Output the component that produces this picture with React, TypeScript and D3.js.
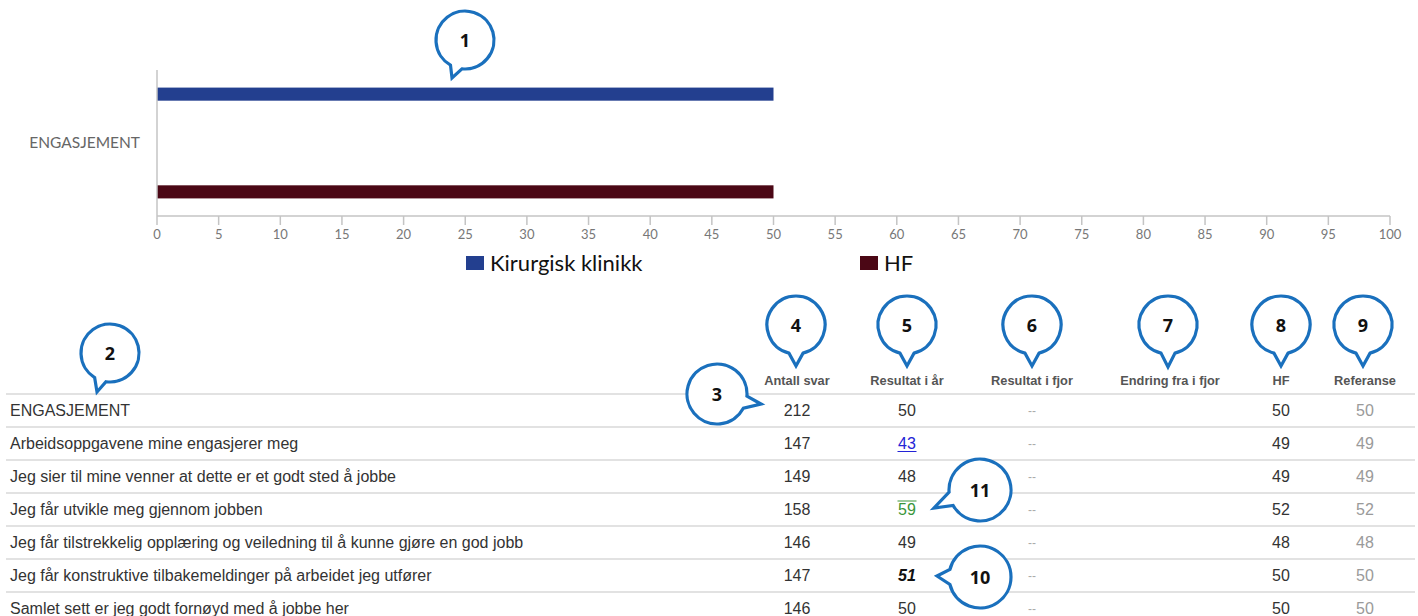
import React from "react";
import * as d3 from "d3";

// ---------- Chart data ----------
const chartCategories = ["ENGASJEMENT"];
const seriesNames = ["Kirurgisk klinikk", "HF"];
const seriesValues = [50, 50];
const seriesColors = ["#233f8f", "#4b0715"];
const xTickValues = [0, 5, 10, 15, 20, 25, 30, 35, 40, 45, 50, 55, 60, 65, 70, 75, 80, 85, 90, 95, 100];

// ---------- Table data ----------
const tableHeaders = ["Antall svar", "Resultat i år", "Resultat i fjor", "Endring fra i fjor", "HF", "Referanse"];
const rowLabels = [
  "ENGASJEMENT",
  "Arbeidsoppgavene mine engasjerer meg",
  "Jeg sier til mine venner at dette er et godt sted å jobbe",
  "Jeg får utvikle meg gjennom jobben",
  "Jeg får tilstrekkelig opplæring og veiledning til å kunne gjøre en god jobb",
  "Jeg får konstruktive tilbakemeldinger på arbeidet jeg utfører",
  "Samlet sett er jeg godt fornøyd med å jobbe her",
];
const antallSvar = [212, 147, 149, 158, 146, 147, 146];
const resultatIAar = [50, 43, 48, 59, 49, 51, 50];
const resultatIFjor = ["--", "--", "--", "--", "--", "--", "--"];
const endringFraIFjor = ["", "", "", "", "", "", ""];
const hfValues = [50, 49, 49, 52, 48, 50, 50];
const referanseValues = [50, 49, 49, 52, 48, 50, 50];
const resultatMarks = ["", "link", "", "overline", "", "bold", ""];

// ---------- Annotation callouts ----------
const callouts = [
  { n: "1", cx: 465, cy: 40, r: 29, a1: 96, a2: 120, tx: 452, ty: 78 },
  { n: "2", cx: 110, cy: 353, r: 29, a1: 98, a2: 122, tx: 97, ty: 392 },
  { n: "3", cx: 717, cy: 394, r: 30, a1: 4, a2: 28, tx: 761, ty: 404 },
  { n: "4", cx: 796, cy: 325, r: 29, a1: 76, a2: 104, tx: 796, ty: 366 },
  { n: "5", cx: 907, cy: 325, r: 29, a1: 76, a2: 104, tx: 907, ty: 366 },
  { n: "6", cx: 1032, cy: 325, r: 29, a1: 76, a2: 104, tx: 1032, ty: 366 },
  { n: "7", cx: 1168, cy: 325, r: 29, a1: 76, a2: 104, tx: 1168, ty: 367 },
  { n: "8", cx: 1281, cy: 325, r: 29, a1: 76, a2: 104, tx: 1281, ty: 366 },
  { n: "9", cx: 1363, cy: 325, r: 29, a1: 76, a2: 104, tx: 1363, ty: 366 },
  { n: "10", cx: 980, cy: 577, r: 31, a1: 166, a2: 194, tx: 937, ty: 576 },
  { n: "11", cx: 980, cy: 490, r: 31, a1: 150, a2: 176, tx: 934, ty: 508 },
];

const W = 1418;
const H = 616;

function calloutPath(c: any) {
  const rad = (d: number) => (d * Math.PI) / 180;
  const p1x = c.cx + c.r * Math.cos(rad(c.a2));
  const p1y = c.cy + c.r * Math.sin(rad(c.a2));
  const p2x = c.cx + c.r * Math.cos(rad(c.a1));
  const p2y = c.cy + c.r * Math.sin(rad(c.a1));
  return `M${p1x},${p1y} A${c.r},${c.r} 0 1 1 ${p2x},${p2y} L${c.tx},${c.ty} Z`;
}

export default function App() {
  // chart scales
  const x = d3.scaleLinear().domain([0, 100]).range([157, 1390]);
  const y = d3.scaleBand<string>().domain(chartCategories).range([70, 216]);
  const ySeries = d3
    .scaleBand<string>()
    .domain(seriesNames)
    .range([0, y.bandwidth()])
    .paddingInner(0.866)
    .paddingOuter(0.18);

  // table scales
  const rowH = 33;
  const tableTop = 394;
  const rowY = d3
    .scaleBand<string>()
    .domain(rowLabels)
    .range([tableTop, tableTop + rowH * rowLabels.length]);
  const colX = d3
    .scaleOrdinal<string, number>()
    .domain(tableHeaders)
    .range([797, 907, 1032, 1170, 1281, 1365]);

  const axisColor = "#c4c4c4";
  const chartFont = "Lato, 'Open Sans', sans-serif";
  const tableFont = "'Liberation Sans', Arial, sans-serif";
  const fs = 16;

  const resultStyle = (mark: string) => {
    if (mark === "link") return { fill: "#2323d6" };
    if (mark === "overline") return { fill: "#3a963a" };
    if (mark === "bold") return { fill: "#111", fontWeight: 700, fontStyle: "italic" as const };
    return { fill: "#333" };
  };

  return (
    <svg
      width={W}
      height={H}
      style={{ position: "absolute", left: 0, top: 0, background: "#fff" }}
    >
      <rect x={0} y={0} width={W} height={H} fill="#fff" />

      {/* ---------- Bar chart ---------- */}
      {chartCategories.map((cat) => (
        <g key={cat}>
          <text
            x={140}
            y={(y(cat) as number) + y.bandwidth() / 2 + 5}
            textAnchor="end"
            fontFamily={chartFont}
            fontSize={15.5}
            fill="#666"
          >
            {cat}
          </text>
          {seriesNames.map((s, i) => (
            <rect
              key={s}
              x={x(0)}
              y={(y(cat) as number) + (ySeries(s) as number)}
              width={x(seriesValues[i]) - x(0)}
              height={ySeries.bandwidth()}
              fill={seriesColors[i]}
            />
          ))}
        </g>
      ))}
      {/* axes */}
      <line x1={x(0)} x2={x(0)} y1={70} y2={216} stroke={axisColor} strokeWidth={1.5} />
      <line x1={x(0)} x2={x(100)} y1={216} y2={216} stroke={axisColor} strokeWidth={1.5} />
      {xTickValues.map((t) => (
        <g key={t}>
          <line x1={x(t)} x2={x(t)} y1={216} y2={225} stroke={axisColor} strokeWidth={1.5} />
          <text
            x={x(t)}
            y={239}
            textAnchor="middle"
            fontFamily={chartFont}
            fontSize={13}
            fill="#777"
          >
            {t}
          </text>
        </g>
      ))}
      {/* legend */}
      {seriesNames.map((s, i) => {
        const lx = i === 0 ? 466 : 860;
        return (
          <g key={s}>
            <rect x={lx} y={256} width={18} height={14} fill={seriesColors[i]} />
            <text x={lx + 24} y={271} fontFamily={chartFont} fontSize={22} fill="#111">
              {s}
            </text>
          </g>
        );
      })}

      {/* ---------- Table ---------- */}
      {tableHeaders.map((h) => (
        <text
          key={h}
          x={colX(h)}
          y={385}
          textAnchor="middle"
          fontFamily={tableFont}
          fontSize={12.8}
          fontWeight={700}
          fill="#555"
        >
          {h}
        </text>
      ))}
      <line x1={6} x2={1415} y1={tableTop} y2={tableTop} stroke="#e2e2e2" strokeWidth={2} />
      {rowLabels.map((label, i) => {
        const top = rowY(label) as number;
        const base = top + 22;
        const rs = resultStyle(resultatMarks[i]);
        const rx = colX(tableHeaders[1]);
        return (
          <g key={label}>
            <line
              x1={6}
              x2={1415}
              y1={top + rowY.bandwidth()}
              y2={top + rowY.bandwidth()}
              stroke="#e2e2e2"
              strokeWidth={2}
            />
            <text x={10} y={base} fontFamily={tableFont} fontSize={fs} fill="#333">
              {label}
            </text>
            <text x={colX(tableHeaders[0])} y={base} textAnchor="middle" fontFamily={tableFont} fontSize={fs} fill="#333">
              {antallSvar[i]}
            </text>
            <text
              x={rx}
              y={base}
              textAnchor="middle"
              fontFamily={tableFont}
              fontSize={fs}
              {...rs}
            >
              {resultatIAar[i]}
            </text>
            {resultatMarks[i] === "link" && (
              <line x1={rx - 9.5} x2={rx + 9.5} y1={base + 2.5} y2={base + 2.5} stroke="#2323d6" strokeWidth={1} />
            )}
            {resultatMarks[i] === "overline" && (
              <line x1={rx - 9.5} x2={rx + 9.5} y1={base - 14} y2={base - 14} stroke="#3a963a" strokeWidth={1} />
            )}
            <text x={colX(tableHeaders[2])} y={base - 1} textAnchor="middle" fontFamily={tableFont} fontSize={12} fill="#aaa">
              {resultatIFjor[i]}
            </text>
            <text x={colX(tableHeaders[3])} y={base} textAnchor="middle" fontFamily={tableFont} fontSize={fs} fill="#333">
              {endringFraIFjor[i]}
            </text>
            <text x={colX(tableHeaders[4])} y={base} textAnchor="middle" fontFamily={tableFont} fontSize={fs} fill="#333">
              {hfValues[i]}
            </text>
            <text x={colX(tableHeaders[5])} y={base} textAnchor="middle" fontFamily={tableFont} fontSize={fs} fill="#9a9a9a">
              {referanseValues[i]}
            </text>
          </g>
        );
      })}

      {/* ---------- Callouts ---------- */}
      {callouts.map((c) => (
        <g key={c.n}>
          <path d={calloutPath(c)} fill="#fff" stroke="#1a70bd" strokeWidth={3.2} strokeLinejoin="miter" />
          <text
            x={c.cx}
            y={c.cy + 6.5}
            textAnchor="middle"
            fontFamily="'Open Sans', Lato, sans-serif"
            fontWeight={700}
            fontSize={18}
            fill="#111"
          >
            {c.n}
          </text>
        </g>
      ))}
    </svg>
  );
}
